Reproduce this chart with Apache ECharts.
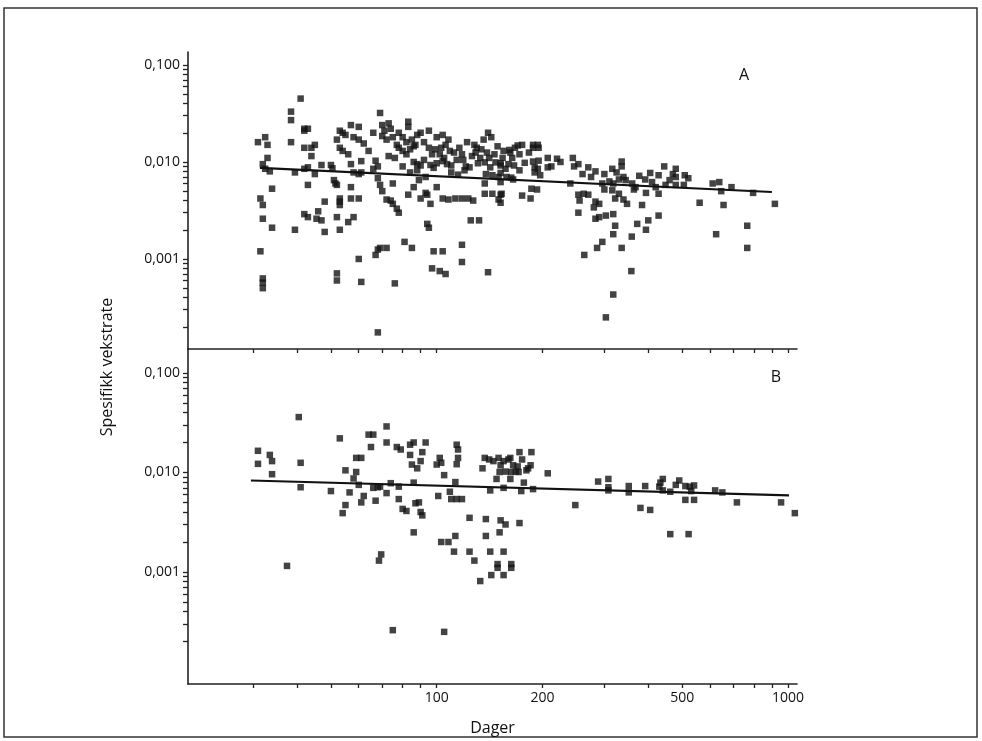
<!DOCTYPE html>
<html><head><meta charset="utf-8">
<script src="https://cdn.jsdelivr.net/npm/echarts@6/dist/echarts.min.js"></script>
<style>html,body{margin:0;padding:0;background:#fff}#c{width:982px;height:741px}</style>
</head><body><div id="c"></div>
<script>
// Panel A: [days, specific growth rate]
const panelA = [
[31,0.016],[32.5,0.018],[33,0.015],[33,0.011],[32,0.0095],[32.5,0.0085],[33.5,0.008],[31.5,0.0042],[32,0.0036],[32,0.0026],[34,0.0053],[34,0.0021],[31.5,0.0012],[32,0.00063],[32,0.0005],[32,0.00057],
[38.5,0.033],[38.5,0.027],[38.5,0.016],[39.5,0.0078],[39.5,0.002],[41,0.045],[42,0.022],[43,0.022],[42,0.021],[42,0.014],[44,0.014],[45,0.015],[44,0.0115],[43,0.0088],[42,0.0085],[43,0.0058],[45,0.0075],[42,0.0029],[43,0.0027],[45.5,0.0026],[48,0.0039],[48,0.0019],[47,0.0025],[46,0.0031],[47,0.0093],
[50,0.0093],[50.5,0.0086],[51,0.0065],[51.5,0.006],[52,0.0058],[53,0.021],[54,0.02],[55,0.019],[52,0.017],[53,0.014],[54,0.013],[56,0.012],[53,0.0042],[53,0.0039],[53,0.0036],[52,0.0027],[53,0.002],[52,0.00071],[52,0.0006],[56,0.0024],[57,0.0042],[58,0.0027],[57,0.024],[60,0.023],[58,0.018],[60,0.017],[57,0.0095],[58,0.0078],[60,0.0075],[61,0.0078],[57,0.0055],[60,0.0042],[60,0.001],[61,0.00058],[61,0.0102],
[69,0.032],[70,0.024],[73,0.025],[74,0.022],[70,0.0185],[72,0.017],[71,0.021],[75,0.018],[67,0.0103],[68,0.009],[66,0.0085],[68,0.0068],[69,0.0058],[70,0.005],[68,0.00125],[69,0.0013],[72,0.0013],[67,0.0011],[68,0.000175],[75,0.006],[72,0.0041],[74,0.004],[75,0.0037],[77,0.0033],[78,0.003],[76,0.00056],
[83,0.026],[83,0.023],[77,0.015],[78,0.014],[80,0.013],[82,0.012],[84,0.0135],[86,0.0145],[88,0.019],[90,0.02],[95,0.021],[86,0.01],[88,0.0095],[90,0.0092],[86,0.0055],[83,0.0046],[81,0.0015],[85,0.0013],[89,0.0065],[93,0.007],[93,0.0048],[94,0.0046],[94,0.0023],[95,0.0021],[90,0.0042],[96,0.0037],[97,0.0008],[102,0.00075],[106,0.0007],[98,0.0012],[96,0.0093],[98,0.0087],[100,0.0097],
[100,0.018],[104,0.019],[108,0.017],[106,0.015],[103,0.014],[104,0.0102],[107,0.0095],[110,0.0092],[114,0.0105],[118,0.012],[110,0.0078],[115,0.0074],[120,0.0082],[100,0.0055],[104,0.0042],[108,0.0041],[113,0.0042],[118,0.0042],[104,0.0012],[118,0.0014],[118,0.00093],[123,0.0042],[127,0.004],[125,0.0025],[132,0.0025],[128,0.015],[130,0.014],[122,0.016],[133,0.011],[131,0.0097],
[136,0.017],[140,0.02],[143,0.018],[137,0.0099],[141,0.011],[147,0.0099],[152,0.0092],[138,0.0075],[144,0.0073],[150,0.007],[137,0.006],[140,0.00073],[137,0.0047],[144,0.0047],[153,0.0047],[150,0.0041],[158,0.007],[163,0.0069],[170,0.0148],[175,0.0045],[167,0.014],[161,0.0133],[188,0.015],[188,0.014],[188,0.0101],[190,0.0088],[190,0.0078],[186,0.0053],
[175,0.015],[194,0.015],[195,0.014],[172,0.012],[164,0.011],[162,0.0125],[155,0.013],[195,0.0103],[194,0.0085],[197,0.0073],[207,0.011],[220,0.0108],[225,0.01],[212,0.009],[207,0.0088],[185,0.0042],[193,0.0052],[152,0.0046],[152,0.0038],[152,0.0097],[152,0.0077],[152,0.0062],[165,0.0066],
[244,0.011],[253,0.0095],[246,0.009],[240,0.006],[270,0.0088],[283,0.008],[253,0.0046],[262,0.0047],[270,0.0046],[253,0.003],[255,0.004],[283,0.0039],[290,0.0037],[280,0.0034],[283,0.0026],[290,0.0027],[303,0.0028],[318,0.0029],[263,0.0011],[296,0.0015],[286,0.0013],[318,0.0018],[322,0.0022],[318,0.00043],[303,0.00025],
[336,0.0101],[336,0.009],[316,0.0085],[296,0.006],[310,0.0063],[318,0.006],[330,0.0066],[340,0.007],[316,0.0051],[322,0.0042],[340,0.0041],[348,0.0037],[336,0.0013],[359,0.0017],[358,0.00075],[364,0.0052],[368,0.0055],[372,0.0023],[394,0.002],[400,0.0025],[384,0.0036],[377,0.0072],[392,0.0066],[405,0.0077],[394,0.0048],
[428,0.0047],[428,0.0028],[428,0.0073],[444,0.009],[448,0.0058],[479,0.0058],[505,0.0058],[479,0.0085],[479,0.007],[508,0.0073],[560,0.0038],[610,0.006],[637,0.0062],[645,0.005],[624,0.0018],[655,0.0036],[690,0.0055],[765,0.0022],[765,0.0013],[795,0.0048],[917,0.0037],
[78,0.02],[80,0.018],[82,0.016],[85,0.017],[87,0.015],[92,0.016],[95,0.014],[97,0.012],[99,0.0135],[102,0.012],[105,0.011],[109,0.013],[112,0.0125],[116,0.014],[119,0.0105],[121,0.009],[124,0.0088],[126,0.0115],[129,0.0125],[134,0.0135],[139,0.0125],[142,0.0088],[146,0.012],[149,0.0145],[154,0.011],[157,0.0085],[160,0.0095],[166,0.0092],[172,0.0082],[178,0.0098],[183,0.0125],[92,0.0105],[88,0.0082],[84,0.0078],[80,0.009],[76,0.011],[73,0.0115],[64,0.013],[62,0.0155],[66,0.02],
[260,0.0075],[275,0.007],[300,0.0075],[325,0.0078],[345,0.0065],[360,0.006],[410,0.0062],[420,0.0055],[460,0.0065],[470,0.0075],[520,0.0068],[300,0.0052],[330,0.0047]
];
// Panel B: [days, specific growth rate]
const panelB = [
[31,0.0165],[31,0.0122],[33.5,0.015],[34,0.013],[34,0.0096],[37.5,0.00115],[40.5,0.036],[41,0.0125],[41,0.0071],[50,0.0065],[53,0.022],[54,0.0039],[55,0.0047],[55,0.0105],[56.5,0.0063],[59,0.014],[61,0.014],[59,0.0101],[58,0.0087],[60,0.0075],[61,0.005],[62,0.0058],
[64,0.024],[66,0.024],[65,0.018],[66,0.007],[68,0.0071],[69,0.0072],[67,0.0052],[68.5,0.0013],[69.5,0.0015],[72,0.029],[72,0.02],[72,0.0062],[74,0.0078],[75,0.00026],[77,0.018],[79,0.017],[78,0.0072],[78,0.0054],[80,0.0043],[82,0.0041],
[84,0.015],[85,0.012],[84,0.019],[86,0.02],[86,0.0079],[86,0.0025],[87,0.0049],[89,0.005],[88,0.011],[90,0.013],[91,0.016],[93,0.02],[90,0.004],[91,0.0037],[100,0.012],[102,0.014],[103,0.0125],[101,0.0058],[103,0.002],[105,0.0094],[105,0.00025],[108,0.002],[109,0.0064],[110,0.0054],[114,0.0054],[118,0.0054],[112,0.0016],[113,0.008],[113,0.0023],[114,0.019],[115,0.017],[115,0.014],[114,0.0121],
[124,0.0035],[124,0.0016],[128,0.0013],[133,0.00081],[135,0.011],[137,0.014],[141,0.0135],[145,0.013],[138,0.0034],[138,0.0023],[142,0.0016],[143,0.00093],[149,0.0012],[149,0.0011],[142,0.0066],[148,0.0086],[152,0.0118],[151,0.0101],[157,0.0102],[162,0.014],[168,0.0102],[170,0.0115],[172,0.016],[174,0.0065],[157,0.003],
[150,0.014],[155,0.013],[160,0.0135],[165,0.0118],[175,0.0135],[186,0.016],[185,0.0118],[163,0.0101],[171,0.0101],[180,0.0105],[182,0.011],[162,0.0086],[177,0.0079],[188,0.0068],[155,0.007],[207,0.0098],[152,0.0033],[151,0.0025],[172,0.0031],[155,0.0016],[163,0.0012],[163,0.0011],[155,0.00093],
[248,0.0047],[288,0.0081],[308,0.0086],[308,0.0071],[308,0.0066],[352,0.0073],[352,0.0063],[380,0.0044],[405,0.0042],[392,0.0073],[440,0.0086],[433,0.0079],[430,0.0072],[440,0.0066],[462,0.0064],[462,0.0024],[490,0.0083],[479,0.0075],[510,0.0073],[525,0.0072],[540,0.0074],[530,0.0065],[510,0.0053],[540,0.0053],[521,0.0024],[620,0.0066],[650,0.0063],[715,0.005],[955,0.005],[1045,0.0039]
];
// Regression lines (end points)
const fitA = [[31.4,0.00867],[899,0.0049]];
const fitB = [[29.6,0.0083],[1006,0.00587]];
// Tick labels / ticks
const xLabelValues = [100,200,500,1000];
const xTickValues = [30,40,50,60,70,80,90,100,200,300,400,500,600,700,800,900,1000];
const yLabelValues = [0.001,0.01,0.1];
const yTickValues = [0.0002,0.0003,0.0004,0.0005,0.0006,0.0007,0.0008,0.0009,
  0.001,0.002,0.003,0.004,0.005,0.006,0.007,0.008,0.009,
  0.01,0.02,0.03,0.04,0.05,0.06,0.07,0.08,0.09,0.1];
const panelLabels = ['A','B'];
const xName = 'Dager';
const yName = 'Spesifikk vekstrate';

const FONT = '"Open Sans", "Noto Sans", sans-serif';
const INK = '#111';
const axisLineStyle = {color: '#222', width: 1.6};

function xAxis(gridIndex, showLabels) {
  return {
    type: 'log', gridIndex, min: 19.6, max: 1060, logBase: 10,
    axisLine: {show: true, lineStyle: axisLineStyle},
    axisTick: {show: true, length: 4, inside: false, customValues: xTickValues, lineStyle: {color: '#222', width: 1.3}},
    minorTick: {show: false},
    splitLine: {show: false},
    axisLabel: {show: showLabels, customValues: xLabelValues, margin: 7, color: INK, fontFamily: FONT, fontSize: 14,
      formatter: v => String(Math.round(v))},
    name: showLabels ? xName : '', nameLocation: 'middle', nameGap: 36,
    nameTextStyle: {color: INK, fontFamily: FONT, fontSize: 16}
  };
}
function yAxis(gridIndex, min, max) {
  return {
    type: 'log', gridIndex, min, max, logBase: 10,
    axisLine: {show: true, lineStyle: axisLineStyle},
    axisTick: {show: true, length: 5, inside: false, customValues: yTickValues, lineStyle: {color: '#222', width: 1.3}},
    minorTick: {show: false},
    splitLine: {show: false},
    axisLabel: {show: true, customValues: yLabelValues, margin: 8, color: INK, fontFamily: FONT, fontSize: 14,
      formatter: v => v.toFixed(3).replace('.', ',')}
  };
}

const chart = echarts.init(document.getElementById('c'), null, {renderer: 'canvas'});
const sym = {type: 'scatter', symbol: 'rect', symbolSize: 6.5, itemStyle: {color: '#141414'}, silent: true, animation: false};
const line = {type: 'line', symbol: 'none', lineStyle: {color: '#111', width: 2.2}, silent: true, animation: false};
chart.setOption({
  animation: false,
  backgroundColor: '#fff',
  grid: [
    {left: 188, top: 52, width: 609, height: 297},
    {left: 188, top: 349, width: 609, height: 335}
  ],
  xAxis: [xAxis(0, false), xAxis(1, true)],
  yAxis: [yAxis(0, 0.000118, 0.136), yAxis(1, 0.0000748, 0.174)],
  series: [
    Object.assign({}, sym, {xAxisIndex: 0, yAxisIndex: 0, data: panelA}),
    Object.assign({}, line, {xAxisIndex: 0, yAxisIndex: 0, data: fitA}),
    Object.assign({}, sym, {xAxisIndex: 1, yAxisIndex: 1, data: panelB}),
    Object.assign({}, line, {xAxisIndex: 1, yAxisIndex: 1, data: fitB})
  ],
  graphic: [
    {type: 'rect', shape: {x: 4, y: 8, width: 973, height: 729}, style: {fill: 'none', stroke: '#333', lineWidth: 1.5}, silent: true},
    {type: 'text', x: 107, y: 367, rotation: Math.PI / 2,
      style: {text: yName, fill: INK, font: '16px ' + FONT, textAlign: 'center', textVerticalAlign: 'middle'}},
    {type: 'text', x: 744, y: 75, style: {text: panelLabels[0], fill: INK, font: '16px ' + FONT, textAlign: 'center', textVerticalAlign: 'middle'}},
    {type: 'text', x: 776, y: 377, style: {text: panelLabels[1], fill: INK, font: '16px ' + FONT, textAlign: 'center', textVerticalAlign: 'middle'}}
  ]
});
</script></body></html>
